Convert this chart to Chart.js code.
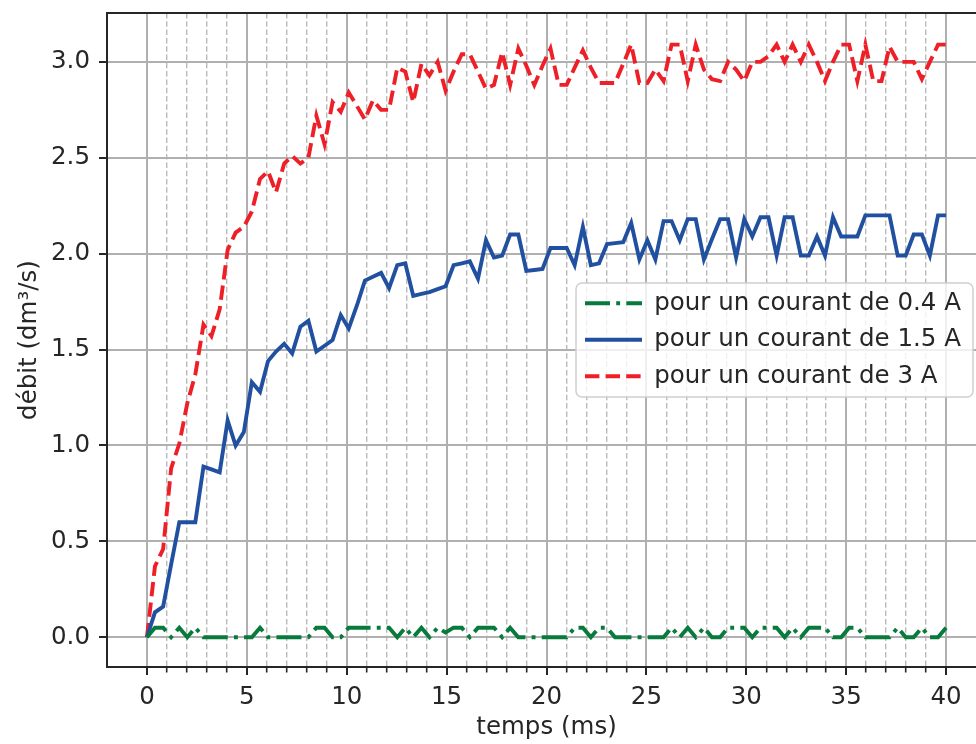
<!DOCTYPE html>
<html><head><meta charset="utf-8">
<script src="https://cdn.jsdelivr.net/npm/chart.js@4.4.1/dist/chart.umd.min.js"></script>
<style>html,body{margin:0;padding:0;overflow:hidden;background:#fff;width:976px;height:744px}canvas{display:block}</style>
</head><body>
<canvas id="c" width="986" height="744"></canvas>
<script>
// sample times (ms)
const times = [0,0.40,0.81,1.21,1.62,2.02,2.42,2.83,3.23,3.64,4.04,4.44,4.85,5.25,5.66,6.06,6.46,6.87,7.27,7.68,
8.08,8.48,8.89,9.29,9.70,10.10,10.51,10.91,11.31,11.72,12.12,12.53,12.93,13.33,13.74,14.14,14.55,14.95,15.35,15.76,
16.16,16.57,16.97,17.37,17.78,18.18,18.59,18.99,19.39,19.80,20.20,20.61,21.01,21.41,21.82,22.22,22.63,23.03,23.43,23.84,
24.24,24.65,25.05,25.45,25.86,26.26,26.67,27.07,27.47,27.88,28.28,28.69,29.09,29.49,29.90,30.30,30.71,31.11,31.52,31.92,
32.32,32.73,33.13,33.54,33.94,34.34,34.75,35.15,35.56,35.96,36.36,36.77,37.17,37.58,37.98,38.38,38.79,39.19,39.60,40];

const flow04A = [0,0.05,0.05,0,0.05,0,0.05,0,0,0,0,0,0,0,0.05,0,0,0,0,0,
0,0.05,0.05,0,0,0.05,0.05,0.05,0.05,0.05,0.05,0,0.05,0,0.05,0,0.05,0.025,0.05,0.05,
0,0.05,0.05,0.05,0,0.05,0,0,0,0,0,0,0,0.05,0.05,0,0.05,0.05,0,0,
0,0,0,0,0,0.05,0,0.05,0,0.05,0,0,0.05,0.05,0.05,0,0.05,0.05,0.05,0,
0.05,0,0.05,0.05,0.05,0,0,0.05,0.05,0,0,0,0,0.05,0,0,0.05,0,0,0.05];

const flow15A = [0,0.13,0.16,0.38,0.60,0.60,0.60,0.89,0.875,0.86,1.13,1.00,1.07,1.33,1.28,1.44,1.49,1.53,1.48,1.62,
1.65,1.49,1.52,1.55,1.68,1.61,1.73,1.86,1.88,1.90,1.82,1.94,1.95,1.78,1.79,1.80,1.815,1.83,1.94,1.95,
1.96,1.87,2.07,1.98,1.99,2.10,2.10,1.91,1.915,1.92,2.03,2.03,2.03,1.94,2.14,1.94,1.95,2.05,2.055,2.06,
2.16,1.97,2.07,1.97,2.17,2.17,2.07,2.18,2.18,1.97,2.075,2.18,2.18,1.98,2.18,2.09,2.19,2.19,1.99,2.19,
2.19,1.99,1.99,2.09,1.99,2.19,2.09,2.09,2.09,2.20,2.20,2.20,2.20,1.99,1.99,2.10,2.10,1.99,2.20,2.20];

const flow3A = [0,0.37,0.46,0.88,1.01,1.22,1.37,1.63,1.57,1.71,2.02,2.11,2.14,2.22,2.39,2.43,2.32,2.47,2.51,2.47,
2.50,2.72,2.57,2.79,2.74,2.84,2.77,2.70,2.80,2.75,2.75,2.97,2.95,2.79,2.99,2.93,3.00,2.85,2.95,3.04,
3.04,2.95,2.86,2.88,3.05,2.88,3.07,2.98,2.88,2.98,3.07,2.88,2.88,2.97,3.06,2.97,2.89,2.89,2.89,2.99,
3.09,2.89,2.89,2.96,2.90,3.09,3.09,2.90,3.09,2.96,2.91,2.90,3.00,2.96,2.90,3.00,3.00,3.03,3.09,3.00,
3.09,3.00,3.09,3.00,2.90,3.00,3.09,3.09,2.90,3.09,2.90,2.90,3.08,3.00,3.00,3.00,2.91,3.00,3.09,3.09];

const seriesLabels = ['pour un courant de 0.4 A', 'pour un courant de 1.5 A', 'pour un courant de 3 A'];
const xMinorTicks = [0,1,2,3,4,5,6,7,8,9,10,11,12,13,14,15,16,17,18,19,20,21,22,23,24,25,26,27,28,29,30,31,32,33,34,35,36,37,38,39,40];
const xMajorTicks = [0,5,10,15,20,25,30,35,40];
const yTicks = [0,0.5,1.0,1.5,2.0,2.5,3.0];
const xTitle = 'temps (ms)';
const yTitle = 'débit (dm³/s)';

const TEXT = '#262626';
const LW = 3.9;
const toPts = (ys) => ys.map((y, i) => ({x: times[i], y}));
const isMajor = (ctx) => ctx.tick && xMajorTicks.includes(ctx.tick.value);

Chart.defaults.font.family = "'DejaVu Sans', sans-serif";
Chart.defaults.font.size = 24.5;
Chart.defaults.color = TEXT;

const datasets = [
  {label: seriesLabels[0], data: toPts(flow04A), borderColor: '#087a3c', borderWidth: LW, borderDash: [25, 6.2, 3.9, 6.2]},
  {label: seriesLabels[1], data: toPts(flow15A), borderColor: '#2150a0', borderWidth: LW, borderDash: []},
  {label: seriesLabels[2], data: toPts(flow3A), borderColor: '#ee1f27', borderWidth: LW, borderDash: [14.4, 6.2]}
].map(d => Object.assign(d, {pointRadius: 0, fill: false, tension: 0, borderCapStyle: 'butt', borderJoinStyle: 'miter', backgroundColor: d.borderColor}));

const legendPlacer = {
  id: 'legendPlacer',
  afterLayout(chart) {
    const lg = chart.legend;
    const ca = chart.chartArea;
    lg.left = ca.left + 466; lg.top = ca.top + 266;
    lg.right = lg.left + 400; lg.bottom = lg.top + 125;
    lg.width = 400; lg.height = 125;
    if (!lg._wrapped) {
      const orig = lg.draw.bind(lg);
      lg.draw = function() {
        const c = chart.ctx;
        const x = this.left + 3, y = this.top + 4, w = 397, h = 114, r = 6;
        c.save();
        c.beginPath();
        c.moveTo(x + r, y); c.lineTo(x + w - r, y); c.arcTo(x + w, y, x + w, y + r, r);
        c.lineTo(x + w, y + h - r); c.arcTo(x + w, y + h, x + w - r, y + h, r);
        c.lineTo(x + r, y + h); c.arcTo(x, y + h, x, y + h - r, r);
        c.lineTo(x, y + r); c.arcTo(x, y, x + r, y, r); c.closePath();
        c.fillStyle = 'rgba(255,255,255,0.8)'; c.fill();
        c.lineWidth = 1.5; c.strokeStyle = '#d0d0d0'; c.stroke();
        c.restore();
        orig();
      };
      lg._wrapped = true;
    }
  }
};

new Chart(document.getElementById('c'), {
  type: 'line',
  data: {datasets},
  options: {
    responsive: false, animation: false, devicePixelRatio: 1,
    layout: {padding: {top: 13, left: 0, right: 0, bottom: 0}},
    plugins: {
      tooltip: {enabled: false},
      legend: {
        position: 'chartArea', align: 'start',
        labels: {
          usePointStyle: true, pointStyleWidth: 57, boxHeight: 24, padding: 12, color: TEXT,
          generateLabels: (chart) => chart.data.datasets.map((d, i) => ({
            text: d.label, strokeStyle: d.borderColor, fillStyle: d.borderColor, lineWidth: d.borderWidth,
            lineDash: d.borderDash, lineCap: 'butt', lineJoin: 'miter', pointStyle: 'line', hidden: false, datasetIndex: i, fontColor: TEXT
          }))
        }
      }
    },
    scales: {
      x: {
        type: 'linear', position: 'bottom', min: -2, max: 42,
        afterBuildTicks: (s) => { s.ticks = xMinorTicks.map(v => ({value: v})); },
        afterFit: (s) => { s.height = 77; s.paddingLeft = 0; s.paddingRight = 0; },
        ticks: {autoSkip: false, maxRotation: 0, padding: 8, color: TEXT,
          callback: (v) => xMajorTicks.includes(v) ? String(v) : ''},
        grid: {
          color: (ctx) => isMajor(ctx) ? '#b0b0b0' : '#bababa',
          lineWidth: (ctx) => isMajor(ctx) ? 2 : 1.4,
          tickLength: 8, tickColor: TEXT, tickWidth: (ctx) => isMajor(ctx) ? 2 : 1.6,
          tickBorderDash: (ctx) => isMajor(ctx) ? [] : [4.5, 60]
        },
        border: {color: TEXT, width: 2, dash: (ctx) => (ctx.tick && !xMajorTicks.includes(ctx.tick.value)) ? [5.5, 2.8] : []},
        title: {display: true, text: xTitle, color: TEXT, padding: {top: 0, bottom: 2}}
      },
      xTop: {
        type: 'linear', position: 'top', display: true,
        ticks: {display: false}, grid: {display: false, drawTicks: false, drawOnChartArea: false},
        border: {display: true, color: TEXT, width: 2},
        afterFit: (s) => { s.height = 0; s.paddingLeft = 0; s.paddingRight = 0; }
      },
      y: {
        type: 'linear', position: 'left', min: -0.155, max: 3.255,
        afterBuildTicks: (s) => { s.ticks = yTicks.map(v => ({value: v})); },
        afterFit: (s) => { s.width = 107; s.paddingTop = 0; s.paddingBottom = 0; },
        ticks: {padding: 9, color: TEXT, callback: (v) => v.toFixed(1)},
        grid: {color: '#b0b0b0', lineWidth: 2, tickLength: 8, tickColor: TEXT, tickWidth: 2},
        border: {color: TEXT, width: 2},
        title: {display: true, text: yTitle, color: TEXT, padding: {top: 15, bottom: 0}}
      }
    }
  },
  plugins: [legendPlacer]
});
</script>
</body></html>
